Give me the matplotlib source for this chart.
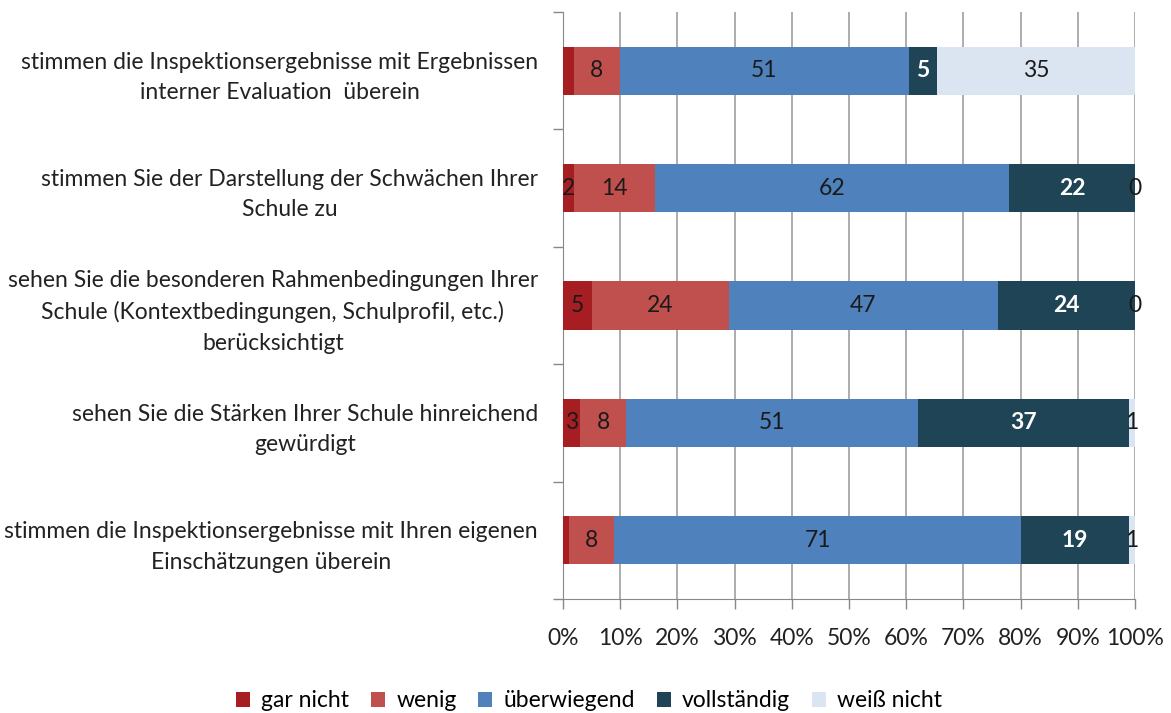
import matplotlib
matplotlib.use("Agg")
import matplotlib.pyplot as plt
import numpy as np

plt.rcParams['font.family'] = ['Lato', 'DejaVu Sans']

categories = [
    "stimmen die Inspektionsergebnisse mit Ergebnissen\ninterner Evaluation  überein",
    "stimmen Sie der Darstellung der Schwächen Ihrer\nSchule zu",
    "sehen Sie die besonderen Rahmenbedingungen Ihrer\nSchule (Kontextbedingungen, Schulprofil, etc.)\nberücksichtigt",
    "sehen Sie die Stärken Ihrer Schule hinreichend\ngewürdigt",
    "stimmen die Inspektionsergebnisse mit Ihren eigenen\nEinschätzungen überein",
]
series_names = ["gar nicht", "wenig", "überwiegend", "vollständig", "weiß nicht"]
gar_nicht = [2, 2, 5, 3, 1]
wenig = [8, 14, 24, 8, 8]
ueberwiegend = [51, 62, 47, 51, 71]
vollstaendig = [5, 22, 24, 37, 19]
weiss_nicht = [35, 0, 0, 1, 1]
# labels shown in the chart (None = no label)
label_gar_nicht = [None, "2", "5", "3", None]
label_wenig = ["8", "14", "24", "8", "8"]
label_ueberwiegend = ["51", "62", "47", "51", "71"]
label_vollstaendig = ["5", "22", "24", "37", "19"]
label_weiss_nicht = ["35", "0", "0", "1", "1"]
x_ticklabels = ["0%", "10%", "20%", "30%", "40%", "50%", "60%", "70%", "80%", "90%", "100%"]

colors = ["#A71E22", "#C0504D", "#4F81BD", "#1F4455", "#DBE5F1"]
text_colors = ["#1a1a1a", "#1a1a1a", "#1a1a1a", "#ffffff", "#1a1a1a"]

data = np.array([gar_nicht, wenig, ueberwiegend, vollstaendig, weiss_nicht], dtype=float)
labels = [label_gar_nicht, label_wenig, label_ueberwiegend, label_vollstaendig, label_weiss_nicht]
pct = data / data.sum(axis=0) * 100

FS = 16.5

fig = plt.figure(figsize=(11.71, 7.13), dpi=100)
ax = fig.add_axes([0.4808, 0.160, 0.4885, 0.8232])

y = np.arange(len(categories))
left = np.zeros(len(categories))
handles = []
for i, name in enumerate(series_names):
    h = ax.barh(y, pct[i], left=left, height=0.41, color=colors[i], label=name,
                zorder=3, edgecolor='none')
    handles.append(h)
    for j in range(len(categories)):
        lab = labels[i][j]
        if lab is not None:
            ax.text(left[j] + pct[i][j] / 2, y[j], lab, ha='center', va='center',
                    fontsize=FS, color=text_colors[i], zorder=4,
                    fontweight='bold' if i == 3 else 'normal')
    left += pct[i]

ax.set_xlim(0, 100)
ax.set_ylim(len(categories) - 0.5, -0.5)
ax.set_xticks(np.arange(0, 101, 10))
ax.set_xticklabels(x_ticklabels, fontsize=FS, color='#222222')
ax.set_yticks(y)
ax.set_yticklabels(categories, fontsize=FS, color='#222222', multialignment='center',
                   linespacing=1.55)
ax.set_yticks(np.arange(-0.5, len(categories), 1), minor=True)
ax.tick_params(axis='y', which='major', length=0, pad=18)
ax.tick_params(axis='y', which='minor', length=7, color='#888888', width=1)
ax.tick_params(axis='x', which='major', length=7, color='#888888', width=1, pad=14)
ax.grid(axis='x', color='#A6A6A6', linewidth=1.3, zorder=0)
for s in ['top', 'right']:
    ax.spines[s].set_visible(False)
ax.spines['left'].set_color('#888888')
ax.spines['bottom'].set_color('#888888')

fig.legend(handles=handles, labels=series_names, loc='center', bbox_to_anchor=(0.503, 0.017),
           ncol=5, frameon=False, fontsize=FS, handlelength=0.6, handleheight=0.6,
           handletextpad=0.5, columnspacing=0.95)

fig.savefig("out.png", dpi=100)
